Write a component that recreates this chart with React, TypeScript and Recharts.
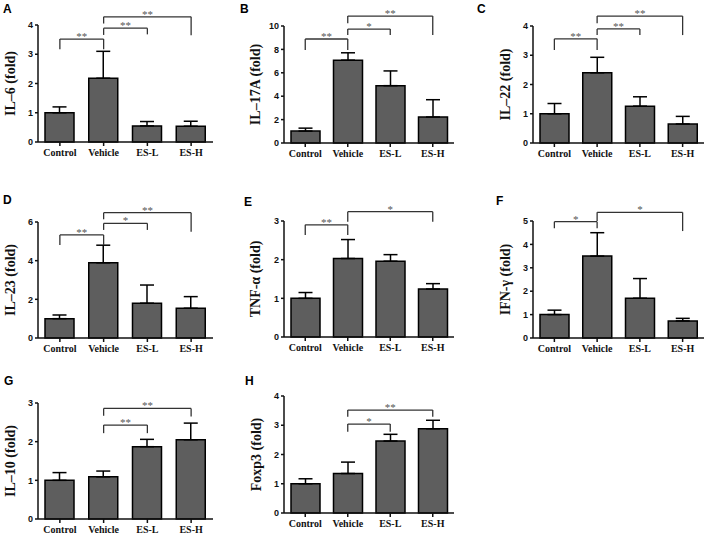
import React from "react";
import {
  BarChart,
  Bar,
  XAxis,
  YAxis,
  ErrorBar,
  ReferenceLine,
} from "recharts";

const groups = ["Control", "Vehicle", "ES-L", "ES-H"];

// mean fold change and upper SEM per group
const il6Mean = [1.0, 2.18, 0.55, 0.54];
const il6Err = [0.2, 0.92, 0.15, 0.17];
const il17aMean = [1.02, 7.08, 4.9, 2.22];
const il17aErr = [0.25, 0.63, 1.26, 1.48];
const il22Mean = [1.0, 2.4, 1.26, 0.65];
const il22Err = [0.35, 0.53, 0.32, 0.26];
const il23Mean = [1.0, 3.89, 1.8, 1.54];
const il23Err = [0.19, 0.91, 0.94, 0.6];
const tnfMean = [1.0, 2.03, 1.96, 1.24];
const tnfErr = [0.15, 0.49, 0.17, 0.14];
const ifnMean = [1.0, 3.5, 1.7, 0.73];
const ifnErr = [0.19, 1.0, 0.84, 0.11];
const il10Mean = [1.0, 1.09, 1.87, 2.05];
const il10Err = [0.2, 0.15, 0.19, 0.43];
const foxp3Mean = [1.0, 1.35, 2.46, 2.88];
const foxp3Err = [0.17, 0.39, 0.23, 0.29];

const il6Ticks = [0, 1, 2, 3, 4];
const il17aTicks = [0, 2, 4, 6, 8, 10];
const il22Ticks = [0, 1, 2, 3, 4];
const il23Ticks = [0, 2, 4, 6];
const tnfTicks = [0, 1, 2, 3];
const ifnTicks = [0, 1, 2, 3, 4, 5];
const il10Ticks = [0, 1, 2, 3];
const foxp3Ticks = [0, 1, 2, 3, 4];

// significance brackets: y = bracket height, dl/dr = where the legs end
const il6Sig = [
  { from: "Control", to: "Vehicle", y: 3.52, dl: 3.17, dr: 3.17, mark: "**" },
  { from: "Vehicle", to: "ES-L", y: 3.89, dl: 3.66, dr: 3.68, mark: "**" },
  { from: "Vehicle", to: "ES-H", y: 4.28, dl: 4.05, dr: 3.65, mark: "**" },
];
const il17aSig = [
  { from: "Control", to: "Vehicle", y: 8.89, dl: 7.95, dr: 7.95, mark: "**" },
  { from: "Vehicle", to: "ES-L", y: 9.74, dl: 9.23, dr: 9.23, mark: "*" },
  { from: "Vehicle", to: "ES-H", y: 10.85, dl: 10.23, dr: 9.23, mark: "**" },
];
const il22Sig = [
  { from: "Control", to: "Vehicle", y: 3.56, dl: 3.18, dr: 3.18, mark: "**" },
  { from: "Vehicle", to: "ES-L", y: 3.9, dl: 3.69, dr: 3.69, mark: "**" },
  { from: "Vehicle", to: "ES-H", y: 4.34, dl: 4.09, dr: 3.69, mark: "**" },
];
const il23Sig = [
  { from: "Control", to: "Vehicle", y: 5.33, dl: 4.81, dr: 4.81, mark: "**" },
  { from: "Vehicle", to: "ES-L", y: 5.93, dl: 5.59, dr: 5.59, mark: "*" },
  { from: "Vehicle", to: "ES-H", y: 6.48, dl: 6.14, dr: 5.5, mark: "**" },
];
const tnfSig = [
  { from: "Control", to: "Vehicle", y: 2.9, dl: 2.64, dr: 2.64, mark: "**" },
  { from: "Vehicle", to: "ES-H", y: 3.24, dl: 2.98, dr: 2.98, mark: "*" },
];
const ifnSig = [
  { from: "Control", to: "Vehicle", y: 4.97, dl: 4.69, dr: 4.69, mark: "*" },
  { from: "Vehicle", to: "ES-H", y: 5.37, dl: 5.0, dr: 4.57, mark: "*" },
];
const il10Sig = [
  { from: "Vehicle", to: "ES-L", y: 2.43, dl: 2.22, dr: 2.22, mark: "**" },
  { from: "Vehicle", to: "ES-H", y: 2.86, dl: 2.67, dr: 2.65, mark: "**" },
];
const foxp3Sig = [
  { from: "Vehicle", to: "ES-L", y: 3.04, dl: 2.78, dr: 2.78, mark: "*" },
  { from: "Vehicle", to: "ES-H", y: 3.52, dl: 3.29, dr: 3.29, mark: "**" },
];

const SERIF = "'Liberation Serif', 'Times New Roman', serif";
const SANS = "'Liberation Sans', Arial, sans-serif";

const panels = [
  { letter: "A", title: "IL–6 (fold)", mean: il6Mean, err: il6Err, ticks: il6Ticks, sig: il6Sig,
    left: 0, top: 0, axisX: 38, xEnd: 213, yTop: 25, yZero: 142, labelX: 15, lx: 3, ly: 13 },
  { letter: "B", title: "IL–17A (fold)", mean: il17aMean, err: il17aErr, ticks: il17aTicks, sig: il17aSig,
    left: 237, top: 0, axisX: 284, xEnd: 454, yTop: 26, yZero: 143, labelX: 23, lx: 240, ly: 13 },
  { letter: "C", title: "IL–22 (fold)", mean: il22Mean, err: il22Err, ticks: il22Ticks, sig: il22Sig,
    left: 474, top: 0, axisX: 533, xEnd: 704, yTop: 26, yZero: 143, labelX: 36, lx: 477, ly: 13 },
  { letter: "D", title: "IL–23 (fold)", mean: il23Mean, err: il23Err, ticks: il23Ticks, sig: il23Sig,
    left: 0, top: 180, axisX: 38, xEnd: 213, yTop: 222, yZero: 338, labelX: 15, lx: 3, ly: 204 },
  { letter: "E", title: "TNF-α (fold)", mean: tnfMean, err: tnfErr, ticks: tnfTicks, sig: tnfSig,
    left: 237, top: 180, axisX: 284, xEnd: 454, yTop: 221, yZero: 337, labelX: 23, lx: 244, ly: 206 },
  { letter: "F", title: "IFN-γ (fold)", mean: ifnMean, err: ifnErr, ticks: ifnTicks, sig: ifnSig,
    left: 474, top: 180, axisX: 533, xEnd: 704, yTop: 221, yZero: 338, labelX: 36, lx: 496, ly: 205 },
  { letter: "G", title: "IL–10 (fold)", mean: il10Mean, err: il10Err, ticks: il10Ticks, sig: il10Sig,
    left: 0, top: 355, axisX: 38, xEnd: 213, yTop: 403, yZero: 519, labelX: 15, lx: 4, ly: 385 },
  { letter: "H", title: "Foxp3 (fold)", mean: foxp3Mean, err: foxp3Err, ticks: foxp3Ticks, sig: foxp3Sig,
    left: 237, top: 355, axisX: 284, xEnd: 454, yTop: 396, yZero: 513, labelX: 24, lx: 245, ly: 385 },
];

function yTitle(text: string, x: number) {
  return (props: any) => {
    const vb = props.viewBox || {};
    const cy = (vb.y ?? 0) + (vb.height ?? 0) / 2;
    return (
      <text
        x={x}
        y={cy}
        transform={`rotate(-90 ${x} ${cy})`}
        textAnchor="middle"
        fontFamily={SERIF}
        fontWeight="bold"
        fontSize={14}
        fill="#111"
      >
        {text}
      </text>
    );
  };
}

function Panel({ p }: { p: (typeof panels)[number] }) {
  const data = groups.map((g, i) => ({ name: g, value: p.mean[i], err: [0, p.err[i]] }));
  const right = 6;
  const width = p.xEnd - p.left + right;
  const height = p.yZero - p.top + 30;
  const max = p.ticks[p.ticks.length - 1];

  return (
    <div style={{ position: "absolute", left: p.left, top: p.top }}>
      <BarChart
        width={width}
        height={height}
        data={data}
        margin={{ top: p.yTop - p.top, right, bottom: 5, left: 0 }}
        style={{ overflow: "visible" }}
      >
        <XAxis
          dataKey="name"
          height={25}
          tickSize={4}
          tickMargin={3}
          stroke="#111"
          strokeWidth={1.5}
          interval={0}
          tick={{ fontSize: 10, fontWeight: "bold", fontFamily: SERIF, fill: "#111" }}
        />
        <YAxis
          type="number"
          domain={[0, max]}
          ticks={p.ticks}
          width={p.axisX - p.left}
          tickSize={3}
          tickMargin={2}
          stroke="#111"
          strokeWidth={1.5}
          tick={{ fontSize: 9, fontWeight: "bold", fontFamily: SANS, fill: "#111" }}
          label={yTitle(p.title, p.labelX)}
        />
        <Bar
          dataKey="value"
          barSize={29}
          fill="#5e5e5e"
          stroke="#000"
          strokeWidth={1.5}
          isAnimationActive={false}
        >
          <ErrorBar dataKey="err" width={7} stroke="#000" strokeWidth={1.5} direction="y" />
        </Bar>
        {p.sig.flatMap((s, i) => [
          <ReferenceLine
            key={`h${i}`}
            segment={[{ x: s.from, y: s.y }, { x: s.to, y: s.y }]}
            ifOverflow="visible"
            stroke="#333"
            strokeWidth={1.3}
            label={{
              value: s.mark,
              position: "top",
              offset: -1,
              fontSize: 11,
              fill: "#555",
              stroke: "none",
              fontFamily: SERIF,
            }}
          />,
          <ReferenceLine
            key={`l${i}`}
            segment={[{ x: s.from, y: s.y }, { x: s.from, y: s.dl }]}
            ifOverflow="visible"
            stroke="#333"
            strokeWidth={1.3}
          />,
          <ReferenceLine
            key={`r${i}`}
            segment={[{ x: s.to, y: s.y }, { x: s.to, y: s.dr }]}
            ifOverflow="visible"
            stroke="#333"
            strokeWidth={1.3}
          />,
        ])}
      </BarChart>
    </div>
  );
}

export default function App() {
  return (
    <div style={{ position: "absolute", left: 0, top: 0, width: 711, height: 535, background: "#fff" }}>
      {panels.map((p) => (
        <Panel key={p.letter} p={p} />
      ))}
      <svg width={711} height={535} style={{ position: "absolute", left: 0, top: 0, pointerEvents: "none" }}>
        {panels.map((p) => (
          <text key={p.letter} x={p.lx} y={p.ly} fontFamily={SANS} fontWeight="bold" fontSize={12} fill="#000">
            {p.letter}
          </text>
        ))}
      </svg>
    </div>
  );
}
